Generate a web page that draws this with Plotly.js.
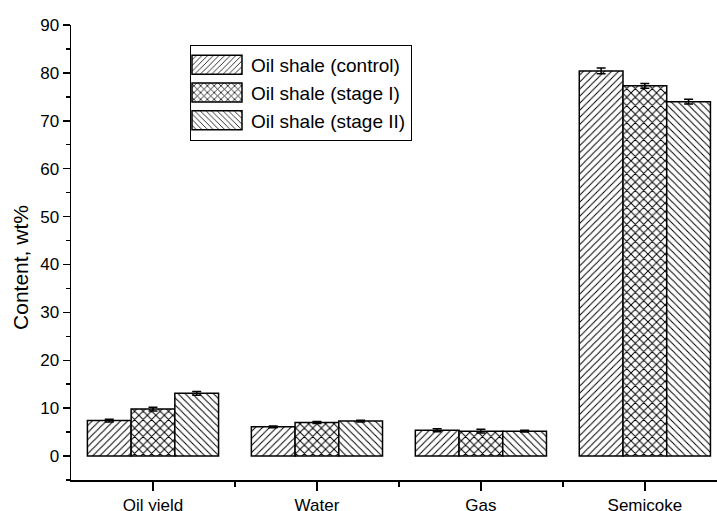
<!DOCTYPE html>
<html>
<head>
<meta charset="utf-8">
<script src="https://cdn.plot.ly/plotly-3.0.1.min.js"></script>
<style>html,body{margin:0;padding:0;background:#fff;}#chart{width:717px;height:511px;}</style>
</head>
<body>
<div id="chart"></div>
<script>
const categories = ["Oil yield", "Water", "Gas", "Semicoke"];
const seriesNames = ["Oil shale (control)", "Oil shale (stage I)", "Oil shale (stage II)"];
const control = [7.4, 6.1, 5.4, 80.4];
const stage1 = [9.8, 7.0, 5.2, 77.3];
const stage2 = [13.1, 7.3, 5.2, 74.0];
const controlErr = [0.3, 0.2, 0.3, 0.6];
const stage1Err = [0.4, 0.2, 0.4, 0.5];
const stage2Err = [0.4, 0.2, 0.2, 0.5];
const yTicks = [0, 10, 20, 30, 40, 50, 60, 70, 80, 90];

const xIdx = categories.map((c, i) => i);
const shapes = ["/", "x", "\\"];
const patSizes = [5, 6, 5];
const patSolid = [0.2, 0.3, 0.2];
const values = [control, stage1, stage2];
const errs = [controlErr, stage1Err, stage2Err];

const traces = values.map((v, k) => ({
  type: "bar",
  name: seriesNames[k],
  x: xIdx,
  y: v,
  marker: {
    color: "#ffffff",
    line: {color: "#000000", width: 1.5},
    pattern: {shape: shapes[k], fgcolor: "#000000", bgcolor: "#ffffff", size: patSizes[k], solidity: patSolid[k]}
  },
  error_y: {type: "data", array: errs[k], visible: true, color: "#000000", thickness: 1.5, width: 4.5}
}));

const layout = {
  width: 717, height: 511,
  margin: {l: 71, r: 0, t: 25, b: 31},
  paper_bgcolor: "#ffffff", plot_bgcolor: "#ffffff",
  font: {family: "Liberation Sans, Arial, sans-serif", color: "#000000", size: 17},
  barmode: "group", bargap: 0.2, bargroupgap: 0,
  showlegend: true,
  legend: {
    x: 0.1842, y: 0.956, xanchor: "left", yanchor: "top",
    bordercolor: "#000000", borderwidth: 1, bgcolor: "#ffffff",
    font: {size: 19}, traceorder: "normal", tracegroupgap: 0, itemwidth: 50
  },
  xaxis: {
    range: [-0.5, 3.44],
    tickmode: "array", tickvals: xIdx, ticktext: categories,
    ticks: "outside", ticklen: 9, tickwidth: 1.5, tickcolor: "#000",
    showline: true, linecolor: "#000", linewidth: 1.5,
    showgrid: false, zeroline: false,
    minor: {tickmode: "array", tickvals: [0.5, 1.5, 2.5], ticks: "outside", ticklen: 5, tickwidth: 1.5, tickcolor: "#000", showgrid: false},
    tickfont: {size: 17}
  },
  yaxis: {
    range: [-5, 90],
    tickmode: "array", tickvals: yTicks,
    ticks: "outside", ticklen: 7, tickwidth: 1.5, tickcolor: "#000",
    showline: true, linecolor: "#000", linewidth: 1.5,
    showgrid: false, zeroline: false,
    minor: {dtick: 5, tick0: 5, ticks: "outside", ticklen: 4, tickwidth: 1.5, tickcolor: "#000", showgrid: false},
    tickfont: {size: 17},
    title: {text: "Content, wt%", font: {size: 21}, standoff: 6}
  }
};

Plotly.newPlot("chart", traces, layout, {displayModeBar: false, staticPlot: true}).then(function (gd) {
  // widen the legend swatches to match the reference's wide patterned boxes
  const paths = gd.querySelectorAll(".legend .legendpoints path");
  paths.forEach(function (p) {
    const bb = p.getBBox();
    const cx = bb.x + bb.width / 2 - 4;
    const cy = bb.y + bb.height / 2;
    const w = 50, h = 19;
    p.setAttribute("d", "M" + (cx - w / 2) + "," + (cy - h / 2) + "H" + (cx + w / 2) + "V" + (cy + h / 2) + "H" + (cx - w / 2) + "Z");
    p.style.strokeWidth = "1.5px";
  });
  // the reference's y title sits a little below the middle of the axis
  const t = gd.querySelector(".ytitle");
  if (t) {
    const x = parseFloat(t.getAttribute("x"));
    const y = parseFloat(t.getAttribute("y")) + 15;
    t.setAttribute("y", y);
    t.setAttribute("transform", "rotate(-90," + x + "," + y + ")");
  }
});
</script>
</body>
</html>
